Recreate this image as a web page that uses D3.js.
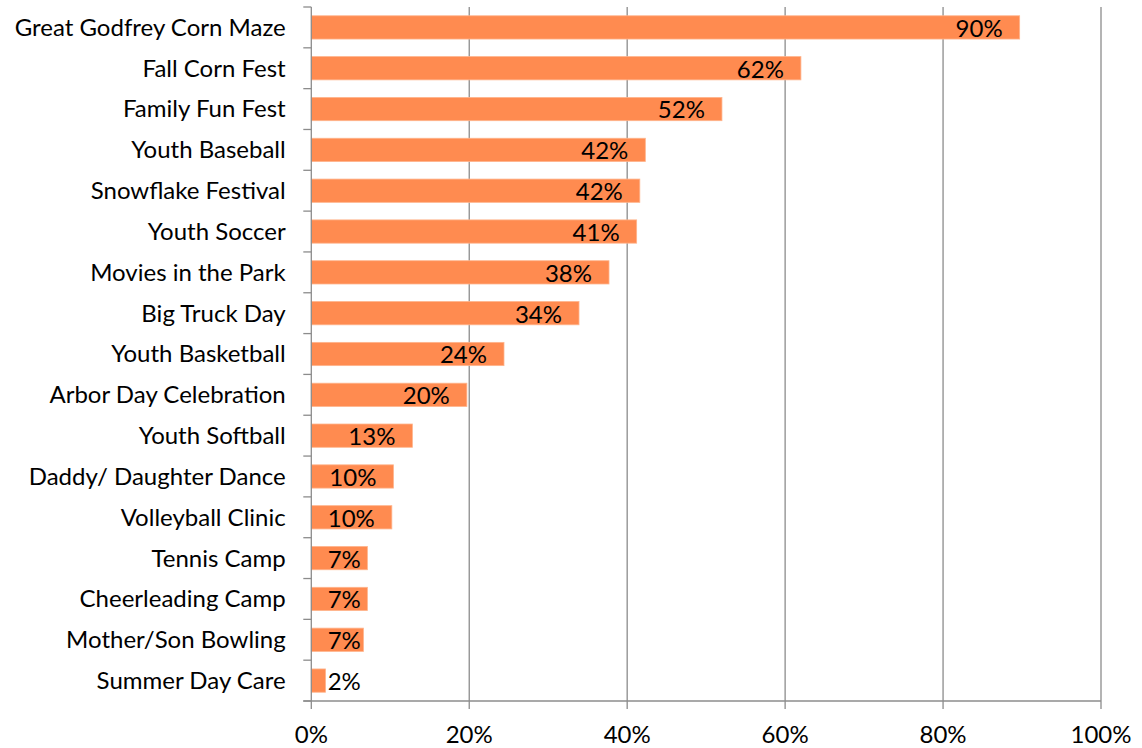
<!DOCTYPE html>
<html>
<head>
<meta charset="utf-8">
<script src="https://cdn.jsdelivr.net/npm/d3@7"></script>
<style>
  html, body { margin: 0; padding: 0; background: #fff; }
  svg { display: block; }
  text { font-family: Lato, "Open Sans", sans-serif; fill: #000; }
</style>
</head>
<body>
<svg id="chart" width="1142" height="748"></svg>
<script>
const categories = [
  "Great Godfrey Corn Maze", "Fall Corn Fest", "Family Fun Fest", "Youth Baseball",
  "Snowflake Festival", "Youth Soccer", "Movies in the Park", "Big Truck Day",
  "Youth Basketball", "Arbor Day Celebration", "Youth Softball", "Daddy/ Daughter Dance",
  "Volleyball Clinic", "Tennis Camp", "Cheerleading Camp", "Mother/Son Bowling", "Summer Day Care"
];
const values = [89.7, 62.0, 52.0, 42.3, 41.6, 41.2, 37.7, 33.9, 24.4, 19.7, 12.8, 10.4, 10.2, 7.1, 7.1, 6.6, 1.8];
const xTicks = [0, 20, 40, 60, 80, 100];

(function () {
const svg = d3.select("#chart");
const pLeft = 311.3, pRight = 1101, pTop = 7, pBottom = 701;
const fontSize = 24;

const x = d3.scaleLinear().domain([0, 100]).range([pLeft, pRight]);
const y = d3.scaleBand().domain(categories).range([pTop, pBottom]).paddingInner(0.43).paddingOuter(0.215);

const gridColor = "#8c8c8c";

svg.append("g").selectAll("line").data(xTicks.filter(d => d > 0)).join("line")
  .attr("x1", d => x(d)).attr("x2", d => x(d))
  .attr("y1", pTop).attr("y2", pBottom + 8)
  .attr("stroke", gridColor).attr("stroke-width", 1.3);

svg.append("g").selectAll("rect").data(values).join("rect")
  .attr("x", x(0))
  .attr("y", (d, i) => y(categories[i]))
  .attr("width", d => x(d) - x(0))
  .attr("height", y.bandwidth())
  .attr("fill", "#ff8b50")
  .attr("stroke", "#ffb48c").attr("stroke-width", 0.8);

const yAxis = svg.append("g");
yAxis.append("line").attr("x1", pLeft).attr("x2", pLeft).attr("y1", pTop).attr("y2", pBottom + 8)
  .attr("stroke", gridColor).attr("stroke-width", 1.3);
const bounds = d3.range(categories.length + 1).map(i => pTop + i * y.step());
yAxis.selectAll("line.tk").data(bounds).join("line").attr("class", "tk")
  .attr("x1", pLeft - 8).attr("x2", pLeft).attr("y1", d => d).attr("y2", d => d)
  .attr("stroke", gridColor).attr("stroke-width", 1.3);

svg.append("line").attr("x1", pLeft - 8).attr("x2", pRight).attr("y1", pBottom).attr("y2", pBottom)
  .attr("stroke", gridColor).attr("stroke-width", 1.3);

svg.append("g").selectAll("text").data(categories).join("text")
  .attr("x", 285.7)
  .attr("y", d => y(d) + y.bandwidth() / 2)
  .attr("dy", "0.35em")
  .attr("text-anchor", "end")
  .attr("font-size", fontSize)
  .text(d => d);

svg.append("g").selectAll("text").data(xTicks).join("text")
  .attr("x", d => x(d))
  .attr("y", 735)
  .attr("dy", "0.35em")
  .attr("text-anchor", "middle")
  .attr("font-size", fontSize)
  .text(d => d + "%");

const lbls = svg.append("g").selectAll("text").data(values).join("text")
  .attr("y", (d, i) => y(categories[i]) + y.bandwidth() / 2 + 1)
  .attr("dy", "0.35em")
  .attr("font-size", fontSize)
  .text(d => Math.round(d) + "%");
lbls.each(function(d) {
  const w = this.getComputedTextLength();
  let lx = x(d) - 17 - w;
  if (lx < pLeft + 16.4) lx = pLeft + 16.4;
  d3.select(this).attr("x", lx);
});
})();
</script>
</body>
</html>
